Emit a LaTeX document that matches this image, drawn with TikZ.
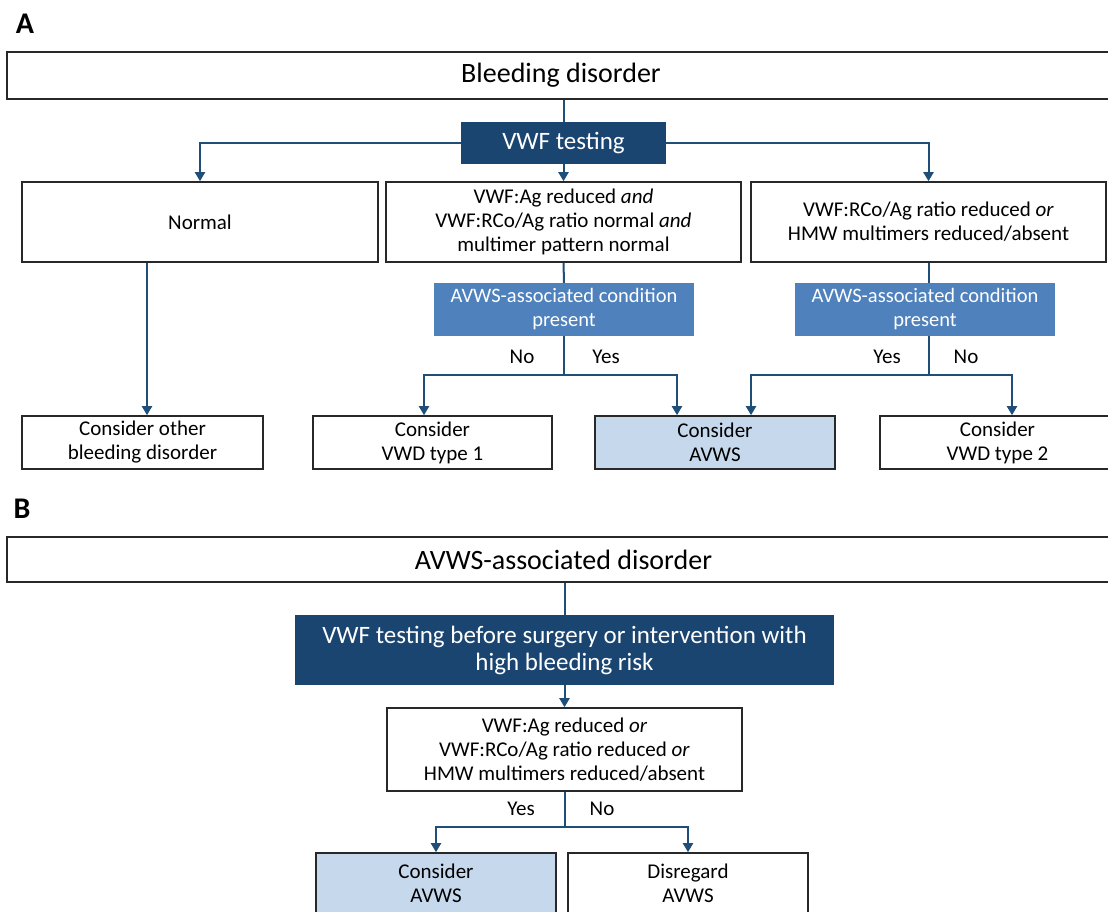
\documentclass[tikz,border=0pt]{standalone}
\usepackage{fontspec}
\setmainfont{Carlito}
\usetikzlibrary{arrows.meta}
\definecolor{dblue}{RGB}{27,69,113}
\definecolor{mblue}{RGB}{79,129,189}
\definecolor{lblue}{RGB}{198,216,236}
\definecolor{lineblue}{RGB}{31,78,121}
\definecolor{bord}{RGB}{40,40,40}
\begin{document}
\begin{tikzpicture}[x=1pt,y=-1pt,
 box/.style={draw=bord, line width=1.6pt, fill=white, inner sep=0pt, align=center, font=\fontsize{21}{24}\selectfont},
 bigbox/.style={box, font=\fontsize{28}{30}\selectfont},
 darkbox/.style={fill=dblue, text=white, inner sep=0pt, align=center, font=\fontsize{25}{27}\selectfont},
 condbox/.style={fill=mblue, text=white, inner sep=0pt, align=center, font=\fontsize{20.5}{24}\selectfont},
 conn/.style={draw=lineblue, line width=2pt},
 arr/.style={conn, -{Triangle[width=10pt,length=9pt]}},
 lab/.style={font=\fontsize{21}{24}\selectfont, inner sep=0pt},
 panel/.style={font=\fontsize{30}{32}\selectfont\bfseries, inner sep=0pt}]
\path[use as bounding box, clip] (0,0) rectangle (1108,911);
\fill[white] (0,0) rectangle (1108,911);

% ---------------- Panel A ----------------
\node[panel] (labA) at (25,24) {A};
\node[bigbox, minimum width=1108pt, minimum height=47pt] (bleed) at (561,75.5) {\raisebox{-2pt}{Bleeding disorder}};
\node[darkbox, minimum width=205pt, minimum height=42pt] (vwf) at (563.5,143) {\raisebox{-2pt}{VWF testing}};
\node[box, minimum width=356pt, minimum height=80pt] (normal) at (200,222) {\raisebox{-2pt}{Normal}};
\node[box, minimum width=355pt, minimum height=80pt] (mid) at (563.5,222) {VWF:Ag reduced \textit{and}\\VWF:RCo/Ag ratio normal \textit{and}\\multimer pattern normal};
\node[box, minimum width=355pt, minimum height=80pt] (right) at (928.5,222) {VWF:RCo/Ag ratio reduced \textit{or}\\HMW multimers reduced/absent};
\node[condbox, minimum width=260pt, minimum height=53pt] (cond1) at (564,309.5) {AVWS-associated condition\\present};
\node[condbox, minimum width=260pt, minimum height=53pt] (cond2) at (925,309.5) {AVWS-associated condition\\present};
\node[box, minimum width=241pt, minimum height=53pt] (other) at (142.5,442.5) {Consider other\\bleeding disorder};
\node[box, minimum width=239pt, minimum height=53pt] (vwd1) at (432.5,442.5) {Consider\\VWD type 1};
\node[box, fill=lblue, minimum width=240pt, minimum height=53pt] (avws1) at (715,442.5) {Consider\\AVWS};
\node[box, minimum width=235pt, minimum height=53pt] (vwd2) at (997.5,442.5) {Consider\\VWD type 2};

\node[lab] (no1) at (522,357) {No};
\node[lab] (yes1) at (606,357) {Yes};
\node[lab] (yes2) at (887,357) {Yes};
\node[lab] (no2) at (966,357) {No};

\draw[conn] (bleed.south -| vwf.north) -- (vwf.north);
\draw[arr] (vwf.west) -| (normal.north);
\draw[arr] (vwf.south) -- (mid.north);
\draw[arr] (vwf.east) -| (right.north);
\draw[arr] ([xshift=4.5pt]other.north |- normal.south) -- ([xshift=4.5pt]other.north);
\draw[conn] (mid.south) -- (cond1.north);
\draw[conn] (cond1.south) -- ++(0,39) coordinate (s1);
\draw[arr] (s1) -| ([xshift=-8.5pt]vwd1.north);
\draw[arr] (s1) -| ([xshift=-38pt]avws1.north);
\draw[conn] (right.south) -- (right.south |- cond2.north);
\draw[conn] (right.south |- cond2.south) -- ++(0,39) coordinate (s2);
\draw[arr] (s2) -| ([xshift=36pt]avws1.north);
\draw[arr] (s2) -| ([xshift=14.5pt]vwd2.north);

% ---------------- Panel B ----------------
\node[panel] (labB) at (22,509) {B};
\node[bigbox, minimum width=1113pt, minimum height=45pt] (avdis) at (563.5,559.5) {\raisebox{-1pt}{AVWS-associated disorder}};
\node[darkbox, minimum width=539pt, minimum height=70pt] (pre) at (564.5,650) {VWF testing before surgery or intervention with\\high bleeding risk};
\node[box, minimum width=355pt, minimum height=83pt] (crit) at (564.5,749.5) {VWF:Ag reduced \textit{or}\\VWF:RCo/Ag ratio reduced \textit{or}\\HMW multimers reduced/absent};
\node[box, fill=lblue, minimum width=240pt, minimum height=72pt, text depth=11pt] (cons) at (436,889) {Consider\\AVWS};
\node[box, minimum width=240pt, minimum height=72pt, text depth=11pt] (disr) at (688,889) {Disregard\\AVWS};
\node[lab] (yes3) at (521,809) {Yes};
\node[lab] (no3) at (602,809) {No};

\draw[conn] (avdis.south -| pre.north) -- (pre.north);
\draw[arr] (pre.south) -- (crit.north);
\draw[conn] (crit.south) -- ++(0,35) coordinate (s3);
\draw[arr] (s3) -| (cons.north);
\draw[arr] (s3) -| (disr.north);
\end{tikzpicture}
\end{document}
